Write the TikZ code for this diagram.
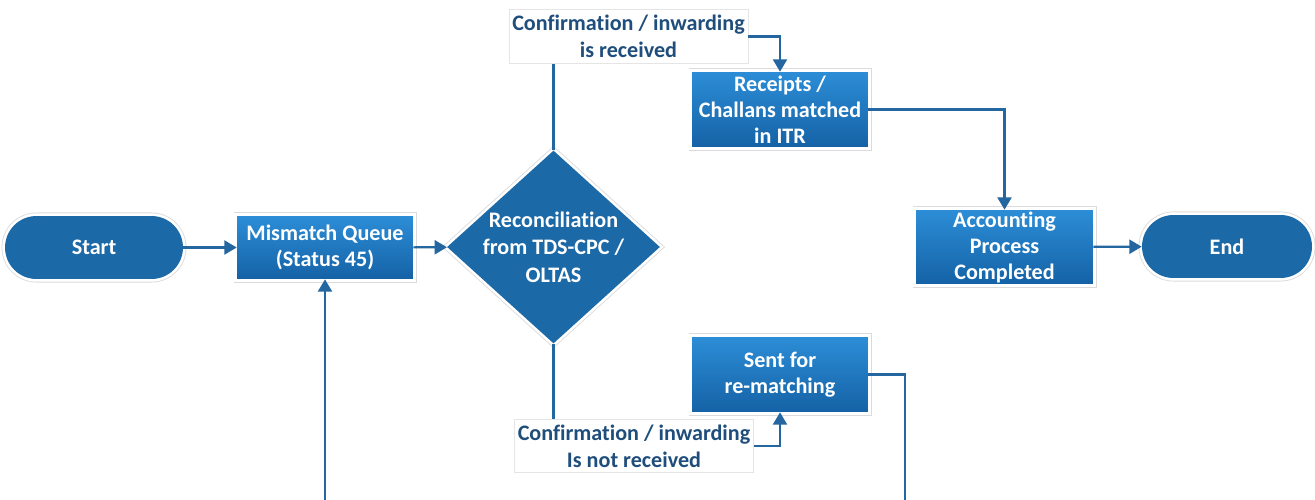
\documentclass[tikz,border=0pt]{standalone}
\usepackage{fontspec}
\setmainfont{Carlito}[Ligatures=NoCommon]
\usetikzlibrary{shapes.geometric,arrows.meta,positioning}
\definecolor{pillblue}{HTML}{1C69A7}
\definecolor{boxtop}{HTML}{2C8DD6}
\definecolor{boxbot}{HTML}{1562A6}
\definecolor{linkblue}{HTML}{2466A0}
\definecolor{labtext}{HTML}{1F4E7C}
\tikzset{
  halo/.style={preaction={draw=black!14,line width=4pt},preaction={draw=white,line width=3pt}},
  pill/.style={halo,rectangle,rounded corners=0.63cm,fill=pillblue,text=white,font=\bfseries\fontsize{12.6}{15}\selectfont,minimum height=1.26cm,inner sep=0pt},
  procbox/.style={halo,rectangle,top color=boxtop,bottom color=boxbot,text=white,font=\bfseries\fontsize{12.6}{14.8}\selectfont,align=center,minimum width=3.52cm,inner sep=0pt},
  decision/.style={halo,diamond,fill=pillblue,text=white,font=\bfseries\fontsize{12.6}{15.6}\selectfont,align=center,minimum width=4.26cm,minimum height=3.86cm,inner sep=-1.5pt,aspect=1.1},
  lab/.style={rectangle,fill=white,draw=black!10,line width=0.4pt,text=labtext,font=\bfseries\fontsize{12.6}{15.3}\selectfont,align=center,minimum width=4.78cm,minimum height=1.07cm,inner sep=0pt},
  link/.style={draw=linkblue,line width=1.2pt},
  arr/.style={link,-{Triangle[length=7pt,width=8pt]}}
}
\begin{document}
\begin{tikzpicture}[x=0.02cm,y=-0.02cm]
\useasboundingbox (0,0) rectangle (1315,500);
\node[pill,minimum width=3.56cm] (start) at (94,247.5) {Start};
\node[procbox,minimum height=1.26cm] (mm) at (325,247.5) {Mismatch Queue\\(Status 45)};
\node[decision] (dia) at (553.5,247) {Reconciliation\\from TDS-CPC /\\OLTAS};
\node[lab] (lt) at (628.5,36.5) {Confirmation / inwarding\\is received};
\node[procbox,minimum height=1.5cm] (rc) at (780,109.5) {Receipts /\\Challans matched\\in ITR};
\node[procbox,minimum width=3.54cm,minimum height=1.48cm] (acc) at (1004.5,247) {Accounting\\Process\\Completed};
\node[pill,minimum width=3.4cm] (end) at (1227,246.5) {End};
\node[lab] (lb) at (634,446) {Confirmation / inwarding\\Is not received};
\node[procbox,minimum height=1.5cm] (sent) at (780,374.5) {Sent for\\re-matching};
\coordinate (loopa) at (905,500);
\coordinate (loopb) at (325,500);
\draw[arr] (start) -- (mm);
\draw[arr] (mm) -- (dia);
\draw[link] (dia.north) -- (dia.north |- lt.south);
\draw[arr] (lt.east) -| (rc.north);
\draw[arr] (rc.east) -| (acc.north);
\draw[arr] (acc) -- (end);
\draw[link] (dia.south) -- (dia.south |- lb.north);
\draw[arr] (lb.east) -| (sent.south);
\draw[link] (sent.east) -| (loopa);
\draw[arr] (loopb) -- (mm.south);
\end{tikzpicture}
\end{document}
